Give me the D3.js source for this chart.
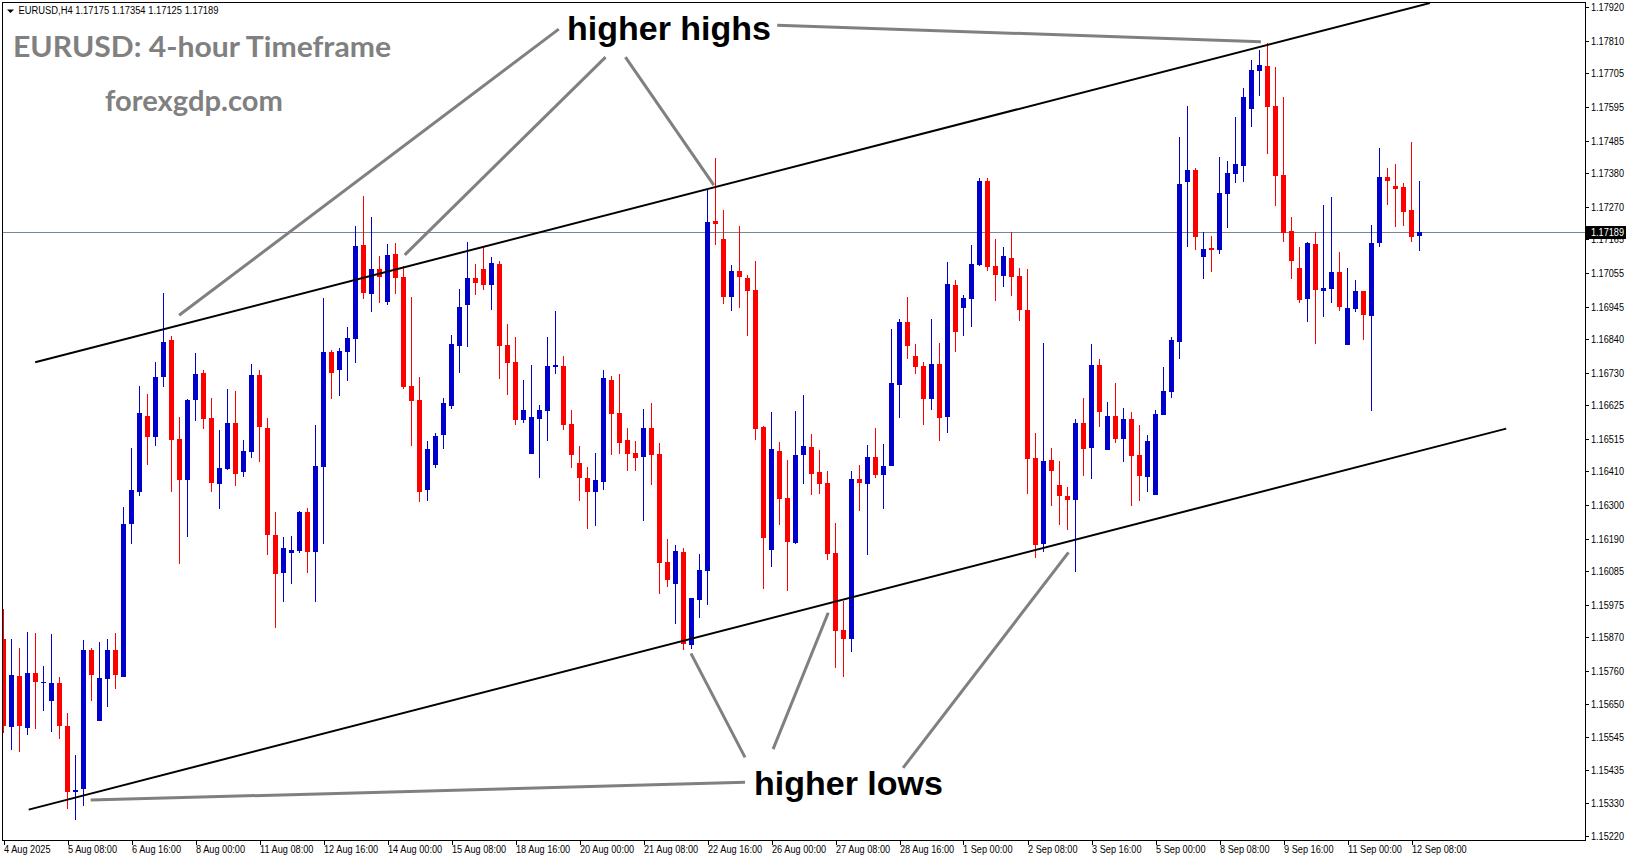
<!DOCTYPE html>
<html><head><meta charset="utf-8">
<script src="https://cdn.jsdelivr.net/npm/d3@7"></script>
<style>
html,body{margin:0;padding:0;background:#fff;overflow:hidden;}
svg{display:block;}
</style></head><body>
<svg id="c" width="1631" height="861"></svg>
<script>
// ---------- DATA (EURUSD H4, 4 Aug 2025 00:00 .. 12 Sep 2025 12:00) ----------
const opens = [1.15863,1.15577,1.15742,1.15574,1.15752,1.15721,1.15662,1.15720,1.15580,1.15365,
1.15375,1.15827,1.15597,1.15734,1.15827,1.15740,1.16236,1.16342,1.16589,1.16521,
1.16716,1.16836,1.16514,1.16382,1.16642,1.16729,1.16582,1.16369,1.16418,1.16566,
1.16408,1.16473,1.16722,1.16550,1.16202,1.16079,1.16144,1.16150,1.16276,1.16147,
1.16424,1.16797,1.16740,1.16797,1.16841,1.17146,1.16987,1.17068,1.16961,1.17117,
1.17042,1.16687,1.16641,1.16349,1.16430,1.16528,1.16622,1.16818,1.16951,1.17038,
1.17068,1.17017,1.17084,1.16820,1.16764,1.16577,1.16466,1.16580,1.16606,1.16750,
1.16751,1.16563,1.16435,1.16388,1.16343,1.16375,1.16706,1.16598,1.16510,1.16468,
1.16456,1.16550,1.16465,1.16113,1.16042,1.16145,1.15844,1.15990,1.16085,1.17224,
1.17165,1.16978,1.17062,1.17038,1.16999,1.16553,1.16153,1.16474,1.16321,1.16176,
1.16463,1.16488,1.16406,1.16370,1.16142,1.15892,1.15864,1.16383,1.16368,1.16455,
1.16397,1.16427,1.16691,1.16895,1.16784,1.16752,1.16645,1.16758,1.16587,1.17015,
1.16942,1.16971,1.17081,1.17354,1.17077,1.17045,1.17104,1.17045,1.16934,1.16452,
1.16173,1.16446,1.16364,1.16328,1.16316,1.16566,1.16486,1.16755,1.16479,1.16589,
1.16515,1.16579,1.16462,1.16391,1.16333,1.16592,1.16668,1.16831,1.17352,1.17390,
1.17108,1.17135,1.17131,1.17313,1.17378,1.17404,1.17590,1.17714,1.17729,1.17599,
1.17374,1.17191,1.17071,1.16971,1.17149,1.16997,1.17004,1.17058,1.16821,1.16938,
1.16997,1.16916,1.17153,1.17368,1.17339,1.17336,1.17261,1.17175];
const highs = [1.15962,1.15863,1.15834,1.15885,1.15882,1.15776,1.15879,1.15739,1.15622,1.15486,
1.15859,1.15834,1.15853,1.15864,1.15882,1.16291,1.16485,1.16686,1.16661,1.16764,
1.16990,1.16849,1.16586,1.16645,1.16794,1.16739,1.16649,1.16543,1.16678,1.16671,
1.16511,1.16759,1.16739,1.16582,1.16276,1.16195,1.16198,1.16280,1.16289,1.16560,
1.16973,1.16804,1.16810,1.16879,1.17208,1.17305,1.17237,1.17110,1.17149,1.17152,
1.17077,1.16977,1.16716,1.16508,1.16534,1.16648,1.16853,1.17003,1.17156,1.17084,
1.17143,1.17106,1.17094,1.16889,1.16846,1.16706,1.16754,1.16624,1.16846,1.16931,
1.16784,1.16608,1.16491,1.16423,1.16468,1.16739,1.16719,1.16727,1.16550,1.16506,
1.16611,1.16631,1.16501,1.16188,1.16169,1.16159,1.15996,1.16139,1.17327,1.17430,
1.17260,1.17080,1.17208,1.17048,1.17093,1.16558,1.16601,1.16504,1.16445,1.16605,
1.16657,1.16530,1.16478,1.16410,1.16240,1.15986,1.16410,1.16429,1.16494,1.16550,
1.16498,1.16872,1.16906,1.16977,1.16824,1.16764,1.16905,1.16827,1.17090,1.17033,
1.16983,1.17146,1.17365,1.17365,1.17165,1.17139,1.17188,1.17071,1.17068,1.16534,
1.16827,1.16485,1.16442,1.16358,1.16579,1.16648,1.16823,1.16775,1.16635,1.16696,
1.16615,1.16602,1.16560,1.16527,1.16608,1.16749,1.16846,1.17498,1.17599,1.17397,
1.17189,1.17176,1.17433,1.17419,1.17563,1.17657,1.17748,1.17781,1.17803,1.17726,
1.17628,1.17237,1.17139,1.17155,1.17189,1.17277,1.17303,1.17124,1.17072,1.17032,
1.16997,1.17211,1.17463,1.17398,1.17410,1.17348,1.17482,1.17354];
const lows = [1.15558,1.15502,1.15495,1.15551,1.15568,1.15629,1.15560,1.15538,1.15310,1.15274,
1.15320,1.15662,1.15597,1.15640,1.15701,1.15740,1.16173,1.16329,1.16431,1.16492,
1.16682,1.16340,1.16108,1.16195,1.16574,1.16548,1.16342,1.16287,1.16413,1.16362,
1.16391,1.16453,1.16440,1.16137,1.15899,1.15984,1.16043,1.16144,1.16079,1.15984,
1.16173,1.16645,1.16655,1.16704,1.16763,1.16971,1.16929,1.16958,1.16951,1.16987,
1.16678,1.16492,1.16310,1.16313,1.16421,1.16482,1.16613,1.16730,1.16815,1.16984,
1.17000,1.16935,1.16710,1.16659,1.16561,1.16567,1.16466,1.16388,1.16508,1.16727,
1.16544,1.16421,1.16313,1.16220,1.16231,1.16349,1.16463,1.16466,1.16411,1.16411,
1.16248,1.16365,1.16010,1.16033,1.15912,1.15828,1.15831,1.15932,1.15974,1.17147,
1.16955,1.16932,1.16942,1.16850,1.16512,1.16026,1.16098,1.16235,1.16020,1.16172,
1.16368,1.16333,1.16336,1.16121,1.15769,1.15738,1.15821,1.16278,1.16137,1.16388,
1.16286,1.16427,1.16584,1.16774,1.16727,1.16561,1.16608,1.16509,1.16534,1.16797,
1.16850,1.16880,1.17077,1.17062,1.16964,1.17009,1.16980,1.16898,1.16336,1.16127,
1.16147,1.16297,1.16235,1.16219,1.16080,1.16394,1.16385,1.16553,1.16479,1.16502,
1.16440,1.16297,1.16313,1.16342,1.16333,1.16592,1.16649,1.16776,1.17140,1.17131,
1.17036,1.17059,1.17118,1.17202,1.17349,1.17352,1.17531,1.17632,1.17443,1.17274,
1.17157,1.17036,1.16958,1.16896,1.16824,1.16912,1.16958,1.16932,1.16821,1.16929,
1.16837,1.16606,1.17140,1.17277,1.17205,1.17209,1.17157,1.17125];
const closes = [1.15578,1.15745,1.15580,1.15752,1.15721,1.15723,1.15720,1.15580,1.15365,1.15370,
1.15827,1.15747,1.15736,1.15827,1.15747,1.16238,1.16348,1.16599,1.16521,1.16716,
1.16830,1.16512,1.16382,1.16641,1.16726,1.16580,1.16372,1.16420,1.16566,1.16401,
1.16475,1.16722,1.16554,1.16202,1.16075,1.16159,1.16152,1.16276,1.16147,1.16426,
1.16797,1.16730,1.16801,1.16843,1.17143,1.16991,1.17068,1.17043,1.17113,1.17039,
1.16684,1.16639,1.16342,1.16481,1.16524,1.16631,1.16823,1.16944,1.17038,1.17023,
1.17017,1.17087,1.16818,1.16762,1.16577,1.16608,1.16585,1.16608,1.16751,1.16754,
1.16561,1.16463,1.16388,1.16343,1.16380,1.16713,1.16596,1.16502,1.16466,1.16453,
1.16550,1.16463,1.16111,1.16055,1.16149,1.15846,1.15996,1.16087,1.17220,1.17216,
1.16978,1.17062,1.17043,1.16997,1.16547,1.16193,1.16481,1.16319,1.16178,1.16461,
1.16491,1.16401,1.16368,1.16140,1.15888,1.15864,1.16383,1.16371,1.16455,1.16397,
1.16426,1.16696,1.16895,1.16818,1.16750,1.16645,1.16758,1.16584,1.17019,1.16863,
1.16973,1.17084,1.17354,1.17075,1.17049,1.17110,1.17043,1.16934,1.16450,1.16170,
1.16442,1.16411,1.16329,1.16316,1.16566,1.16482,1.16755,1.16603,1.16589,1.16515,
1.16579,1.16460,1.16394,1.16508,1.16595,1.16670,1.16836,1.17345,1.17390,1.17173,
1.17133,1.17131,1.17315,1.17379,1.17410,1.17628,1.17716,1.17732,1.17596,1.17372,
1.17186,1.17095,1.16968,1.17152,1.17000,1.17007,1.17058,1.16945,1.16942,1.16997,
1.16919,1.17153,1.17368,1.17355,1.17329,1.17254,1.17173,1.17189];

const priceTicks = [1.17920,1.17810,1.17705,1.17595,1.17485,1.17380,1.17270,1.17165,1.17055,1.16945,
1.16840,1.16730,1.16625,1.16515,1.16410,1.16300,1.16190,1.16085,1.15975,1.15870,
1.15760,1.15650,1.15545,1.15435,1.15330,1.15220];
const timeTickBars = [0,8,16,24,32,40,48,56,64,72,80,88,96,104,112,120,128,136,144,152,160,168,176];
const timeTickLabels = ["4 Aug 2025","5 Aug 08:00","6 Aug 16:00","8 Aug 00:00","11 Aug 08:00","12 Aug 16:00",
"14 Aug 00:00","15 Aug 08:00","18 Aug 16:00","20 Aug 00:00","21 Aug 08:00","22 Aug 16:00","26 Aug 00:00",
"27 Aug 08:00","28 Aug 16:00","1 Sep 00:00","2 Sep 08:00","3 Sep 16:00","5 Sep 00:00","8 Sep 08:00",
"9 Sep 16:00","11 Sep 00:00","12 Sep 08:00"];
const lastPrice = 1.17189;
const headerText = "EURUSD,H4  1.17175 1.17354 1.17125 1.17189";

// channel lines: [barIndex, price]
const upperChannel = [[3.96,1.16764],[178.3,1.17934]];
const lowerChannel = [[3.15,1.15307],[187.84,1.16548]];
// annotation pointer lines: [barIndex, price] pairs
const highPointers = [
  [[69.41,1.17849],[21.95,1.16917]],
  [[75.26,1.17758],[50.16,1.17114]],
  [[77.74,1.17758],[88.79,1.17341]],
  [[96.71,1.17862],[157.17,1.17808]]
];
const lowPointers = [
  [[92.69,1.15477],[85.93,1.15816]],
  [[96.2,1.15504],[103.09,1.15948]],
  [[112.45,1.15443],[133.13,1.16145]],
  [[92.69,1.15396],[10.9,1.15338]]
];

// ---------- DRAW ----------
(function () {
const W = 1631, H = 861;
const pLeft = 2, pRight = 1585, pTop = 2, pBottom = 840;
const svg = d3.select('#c');
const x = d3.scaleLinear().domain([0, 177]).range([3.5, 1419.5]);
const y = d3.scaleLinear().domain([1.15208, 1.17944]).range([840, 0]);

svg.append('rect').attr('width', W).attr('height', H).attr('fill', '#fff');

svg.append('defs').append('clipPath').attr('id', 'clip')
  .append('rect').attr('x', pLeft + 1).attr('y', pTop + 1)
  .attr('width', pRight - pLeft - 1).attr('height', pBottom - pTop - 1);

const plot = svg.append('g').attr('clip-path', 'url(#clip)');

// current price line
plot.append('line')
  .attr('x1', pLeft).attr('x2', pRight)
  .attr('y1', Math.round(y(lastPrice)) + 0.5).attr('y2', Math.round(y(lastPrice)) + 0.5)
  .attr('stroke', '#778899').attr('stroke-width', 1);

const bars = opens.map((o, i) => ({ i, o, h: highs[i], l: lows[i], c: closes[i] }));
const col = d => d.c >= d.o ? '#0000CD' : '#FF0000';

const g = plot.append('g').attr('shape-rendering', 'crispEdges');
g.selectAll('rect.wick').data(bars).join('rect').attr('class', 'wick')
  .attr('x', d => Math.round(x(d.i) - 0.5))
  .attr('width', 1)
  .attr('y', d => Math.round(y(d.h)))
  .attr('height', d => Math.max(1, Math.round(y(d.l)) - Math.round(y(d.h))))
  .attr('fill', col);
g.selectAll('rect.body').data(bars).join('rect').attr('class', 'body')
  .attr('x', d => Math.round(x(d.i) - 2.5))
  .attr('width', 5)
  .attr('y', d => Math.round(y(Math.max(d.o, d.c))))
  .attr('height', d => Math.max(1, Math.round(y(Math.min(d.o, d.c))) - Math.round(y(Math.max(d.o, d.c)))))
  .attr('fill', col);

// channel lines
[upperChannel, lowerChannel].forEach(seg => {
  plot.append('line')
    .attr('x1', x(seg[0][0])).attr('y1', y(seg[0][1]))
    .attr('x2', x(seg[1][0])).attr('y2', y(seg[1][1]))
    .attr('stroke', '#000').attr('stroke-width', 2);
});
// pointer lines
highPointers.concat(lowPointers).forEach(seg => {
  plot.append('line')
    .attr('x1', x(seg[0][0])).attr('y1', y(seg[0][1]))
    .attr('x2', x(seg[1][0])).attr('y2', y(seg[1][1]))
    .attr('stroke', '#808080').attr('stroke-width', 3);
});

// annotation texts
plot.append('text').attr('x', 567).attr('y', 40)
  .attr('font-family', 'Liberation Sans, Arial, sans-serif').attr('font-weight', 'bold')
  .attr('font-size', 34).attr('fill', '#000').text('higher highs');
plot.append('text').attr('x', 754).attr('y', 795)
  .attr('font-family', 'Liberation Sans, Arial, sans-serif').attr('font-weight', 'bold')
  .attr('font-size', 34).attr('fill', '#000').text('higher lows');

// title + watermark
plot.append('text').attr('x', 13).attr('y', 56.5)
  .attr('font-family', 'Lato, sans-serif').attr('font-weight', 'bold')
  .attr('font-size', 29.3).attr('fill', '#808080')
  .attr('textLength', 378).attr('lengthAdjust', 'spacingAndGlyphs')
  .text('EURUSD: 4-hour Timeframe');
plot.append('text').attr('x', 105).attr('y', 111)
  .attr('font-family', 'Lato, sans-serif').attr('font-weight', 'bold')
  .attr('font-size', 28).attr('fill', '#808080')
  .attr('textLength', 178).attr('lengthAdjust', 'spacingAndGlyphs')
  .text('forexgdp.com');

// header
plot.append('path').attr('d', 'M7,9.5 L14,9.5 L10.5,13 Z').attr('fill', '#000');
plot.append('text').attr('x', 18.5).attr('y', 14)
  .attr('font-family', 'Liberation Sans, Arial, sans-serif').attr('font-size', 10)
  .attr('textLength', 200).attr('lengthAdjust', 'spacingAndGlyphs')
  .attr('fill', '#000').text(headerText);

// frame
const fr = svg.append('g').attr('shape-rendering', 'crispEdges');
fr.append('rect').attr('x', pLeft + 0.5).attr('y', pTop + 0.5)
  .attr('width', pRight - pLeft).attr('height', pBottom - pTop)
  .attr('fill', 'none').attr('stroke', '#000').attr('stroke-width', 1);

// price axis
const pa = svg.append('g');
priceTicks.forEach(p => {
  const yy = Math.round(y(p));
  pa.append('line').attr('x1', pRight).attr('x2', pRight + 4)
    .attr('y1', yy + 0.5).attr('y2', yy + 0.5).attr('stroke', '#000').attr('shape-rendering', 'crispEdges');
  pa.append('text').attr('x', pRight + 6).attr('y', yy + 4)
    .attr('font-family', 'Liberation Sans, Arial, sans-serif').attr('font-size', 10)
    .attr('textLength', 33).attr('lengthAdjust', 'spacingAndGlyphs')
    .attr('fill', '#000').text(p.toFixed(5));
});
// last price label
const ly = y(lastPrice);
pa.append('rect').attr('x', pRight + 1).attr('y', Math.round(ly) - 6).attr('width', 40).attr('height', 13)
  .attr('fill', '#000').attr('shape-rendering', 'crispEdges');
pa.append('text').attr('x', pRight + 6).attr('y', Math.round(ly) + 4)
  .attr('font-family', 'Liberation Sans, Arial, sans-serif').attr('font-size', 10)
  .attr('textLength', 33).attr('lengthAdjust', 'spacingAndGlyphs')
  .attr('fill', '#fff').text(lastPrice.toFixed(5));

// time axis
const ta = svg.append('g');
timeTickBars.forEach((b, k) => {
  const xx = Math.round(x(b));
  ta.append('line').attr('x1', xx + 0.5).attr('x2', xx + 0.5).attr('y1', pBottom).attr('y2', pBottom + 5)
    .attr('stroke', '#000').attr('shape-rendering', 'crispEdges');
  ta.append('text').attr('transform', `translate(${xx},${pBottom + 13}) scale(0.92,1)`)
    .attr('font-family', 'Liberation Sans, Arial, sans-serif').attr('font-size', 10)
    .attr('fill', '#000').text(timeTickLabels[k]);
});
})();
</script>
</body></html>
